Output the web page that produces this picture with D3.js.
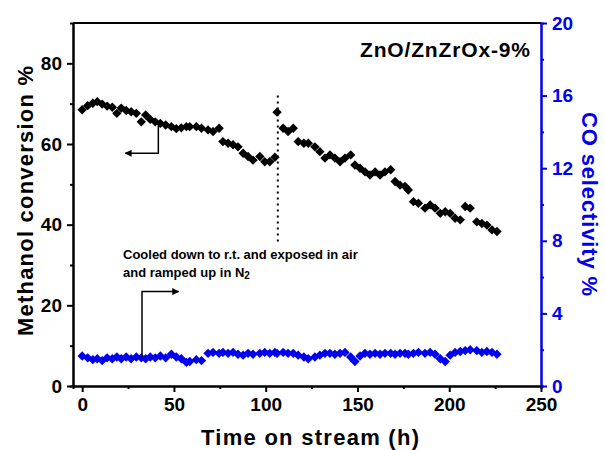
<!DOCTYPE html>
<html lang="en">
<head>
<meta charset="UTF-8">
<title>Methanol conversion vs time on stream</title>
<script src="https://d3js.org/d3.v7.min.js"></script>
<style>
    body { margin: 0; background: white; }
    .tick text { font-family: "Liberation Sans", Arial, sans-serif; font-weight: bold; font-size: 19px; }
</style>
</head>
<body>
<div id="chart"></div>
<script>
// time on stream (h)
const hours = [0, 3, 5.8, 8.2, 10.9, 13.6, 16.4, 18.9, 21.3, 24, 26.7, 29.5, 32.2, 34.6, 37.1, 39.8,
    42.6, 45.5, 48.6, 51.3, 54, 56.8, 58.6, 62.2, 65, 68.6, 71.3, 74.6, 76.7, 79.5, 82.2, 84.9,
    87.7, 90.4, 93.1, 96.8, 99.5, 102.2, 105, 106.2, 109.5, 112.2, 115, 117.7, 120.8, 123.2,
    126.8, 129.5, 132.3, 135, 137.7, 140.5, 143.2, 146.3, 148.6, 151.4, 154.1, 156.8, 159.6,
    162.3, 165, 168.1, 170.5, 173.2, 175.9, 177.7, 180.5, 183.2, 186.8, 189.6, 192.3, 195.1,
    197.8, 200.5, 203.2, 206, 208.7, 211.4, 215, 217.8, 220.5, 223.3, 226];

// methanol conversion %
const conversion = [68.5, 69.5, 70.1, 70.5, 69.9, 69.4, 69.1, 67.6, 68.9, 68.3, 68, 67.6, 65.5, 67.2, 66.1, 65.5,
    65.1, 64.7, 64.3, 63.8, 64, 64.3, 64.3, 64.3, 63.9, 63.5, 63.1, 63.9, 60.6, 60.2, 59.8, 59.3,
    57.7, 56.9, 56, 56.9, 55.6, 55.6, 56.7, 67.9, 63.9, 63.1, 63.9, 60.6, 60.2, 60.2,
    59.3, 58.1, 56.5, 57.3, 56.5, 55.6, 56.5, 57.3, 54.8, 54, 53.1, 52.3, 53.1,
    52.3, 53.1, 53.6, 50.7, 49.8, 49.5, 48.6, 45.7, 45.3, 44.1, 44.9, 44.1, 42.8,
    43.2, 42.8, 41.6, 41.2, 44.5, 44.1, 40.7, 40.3, 39.9, 38.7, 38.3];

// CO selectivity %
const coSelectivity = [1.65, 1.55, 1.45, 1.5, 1.4, 1.55, 1.5, 1.6, 1.5, 1.6, 1.5, 1.6, 1.55, 1.5, 1.6, 1.55,
    1.65, 1.55, 1.75, 1.6, 1.5, 1.3, 1.35, 1.45, 1.4, 1.8, 1.85, 1.8, 1.85, 1.8, 1.85, 1.75,
    1.7, 1.8, 1.75, 1.8, 1.85, 1.8, 1.85, 1.8, 1.85, 1.8, 1.8, 1.7, 1.6, 1.5,
    1.6, 1.7, 1.8, 1.8, 1.75, 1.8, 1.85, 1.6, 1.35, 1.65, 1.8, 1.75, 1.8,
    1.75, 1.8, 1.8, 1.75, 1.8, 1.8, 1.75, 1.8, 1.85, 1.8, 1.85, 1.75, 1.5,
    1.35, 1.7, 1.85, 1.9, 1.95, 2.0, 1.95, 1.85, 1.9, 1.85, 1.75];

const xTicks = [0, 50, 100, 150, 200, 250];
const leftTicks = [0, 20, 40, 60, 80];
const rightTicks = [0, 4, 8, 12, 16, 20];

const W = 605, H = 450;
const margin = {top: 23, right: 64, bottom: 64, left: 73};
const width = W - margin.left - margin.right;
const height = H - margin.top - margin.bottom;
const blue = "#0000ee";
const font = '"Liberation Sans", Arial, sans-serif';

const svg = d3.select("#chart").append("svg")
    .attr("width", W).attr("height", H);
const g = svg.append("g").attr("transform", `translate(${margin.left},${margin.top})`);

const x = d3.scaleLinear().domain([-5, 250]).range([0, width]);
const yL = d3.scaleLinear().domain([0, 90]).range([height, 0]);
const yR = d3.scaleLinear().domain([0, 20]).range([height, 0]);

// minor ticks
function minor(axisGen, values) {
    return axisGen.tickValues(values).tickSize(3).tickFormat("");
}

g.append("g").attr("transform", `translate(0,${height})`)
    .call(minor(d3.axisBottom(x), [25, 75, 125, 175, 225]));
g.append("g").call(minor(d3.axisLeft(yL), [10, 30, 50, 70]));
g.append("g").attr("transform", `translate(${width},0)`)
    .call(minor(d3.axisRight(yR), [2, 6, 10, 14, 18]))
    .attr("color", blue);

// major axes
const xAxis = g.append("g").attr("transform", `translate(0,${height})`)
    .call(d3.axisBottom(x).tickValues(xTicks).tickSize(6).tickPadding(6).tickSizeOuter(0));
const yAxisL = g.append("g")
    .call(d3.axisLeft(yL).tickValues(leftTicks).tickSize(6).tickPadding(5).tickSizeOuter(0));
const yAxisR = g.append("g").attr("transform", `translate(${width},0)`)
    .call(d3.axisRight(yR).tickValues(rightTicks).tickSize(6).tickPadding(5).tickSizeOuter(0))
    .attr("color", blue);

g.selectAll(".domain, .tick line").attr("stroke-width", 2);
yAxisR.selectAll("text").attr("fill", blue);

// top frame
g.append("line").attr("x1", 0).attr("x2", width).attr("y1", 0).attr("y2", 0)
    .attr("stroke", "black").attr("stroke-width", 2);

// markers: diamonds
const diamond = d3.symbol(d3.symbolSquare, 44);

g.append("g").selectAll("path")
    .data(hours.map((h, i) => [h, coSelectivity[i]]))
    .join("path")
    .attr("d", diamond)
    .attr("transform", d => `translate(${x(d[0])},${yR(d[1])}) rotate(45)`)
    .attr("fill", blue);

g.append("g").selectAll("path")
    .data(hours.map((h, i) => [h, conversion[i]]))
    .join("path")
    .attr("d", diamond)
    .attr("transform", d => `translate(${x(d[0])},${yL(d[1])}) rotate(45)`)
    .attr("fill", "black");

// dotted line at restart
g.append("line")
    .attr("x1", x(106.6)).attr("x2", x(106.6))
    .attr("y1", yL(72)).attr("y2", yL(35))
    .attr("stroke", "black").attr("stroke-width", 2).attr("stroke-dasharray", "2,4");

// arrows
svg.append("defs").append("marker")
    .attr("id", "head").attr("viewBox", "0 0 10 10")
    .attr("refX", 9).attr("refY", 5)
    .attr("markerWidth", 7).attr("markerHeight", 7)
    .attr("markerUnits", "userSpaceOnUse")
    .attr("orient", "auto")
    .append("path").attr("d", "M0,0 L10,5 L0,10 Z").attr("fill", "black");

g.append("path")
    .attr("d", `M${x(41.5)},${yL(64.5)} V${yL(57.7)} H${x(23.5)}`)
    .attr("fill", "none").attr("stroke", "black").attr("stroke-width", 1.5)
    .attr("marker-end", "url(#head)");

g.append("path")
    .attr("d", `M${x(32.6)},${yR(1.6)} V${yR(5.2)} H${x(52.5)}`)
    .attr("fill", "none").attr("stroke", "black").attr("stroke-width", 1.5)
    .attr("marker-end", "url(#head)");

// texts
svg.append("text")
    .attr("x", 530).attr("y", 57).attr("text-anchor", "end")
    .attr("font-family", font).attr("font-weight", "bold").attr("font-size", 21)
    .attr("textLength", 170).attr("lengthAdjust", "spacing")
    .text("ZnO/ZnZrOx-9%");

const note = svg.append("text")
    .attr("font-family", font).attr("font-weight", "bold").attr("font-size", 13);
note.append("tspan").attr("x", 123).attr("y", 259).text("Cooled down to r.t. and exposed in air");
const l2 = note.append("tspan").attr("x", 123).attr("y", 277).text("and ramped up in N");
l2.append("tspan").attr("font-size", 10).attr("dy", 2).text("2");

svg.append("text")
    .attr("transform", `translate(33,201) rotate(-90)`)
    .attr("text-anchor", "middle")
    .attr("font-family", font).attr("font-weight", "bold").attr("font-size", 22)
    .attr("textLength", 270).attr("lengthAdjust", "spacing")
    .text("Methanol conversion %");

svg.append("text")
    .attr("transform", `translate(582,204) rotate(90)`)
    .attr("text-anchor", "middle").attr("fill", blue)
    .attr("font-family", font).attr("font-weight", "bold").attr("font-size", 22)
    .attr("textLength", 184).attr("lengthAdjust", "spacing")
    .text("CO selectivity %");

svg.append("text")
    .attr("x", 310).attr("y", 445).attr("text-anchor", "middle")
    .attr("font-family", font).attr("font-weight", "bold").attr("font-size", 22)
    .attr("textLength", 218).attr("lengthAdjust", "spacing")
    .text("Time on stream (h)");
</script>
</body>
</html>
